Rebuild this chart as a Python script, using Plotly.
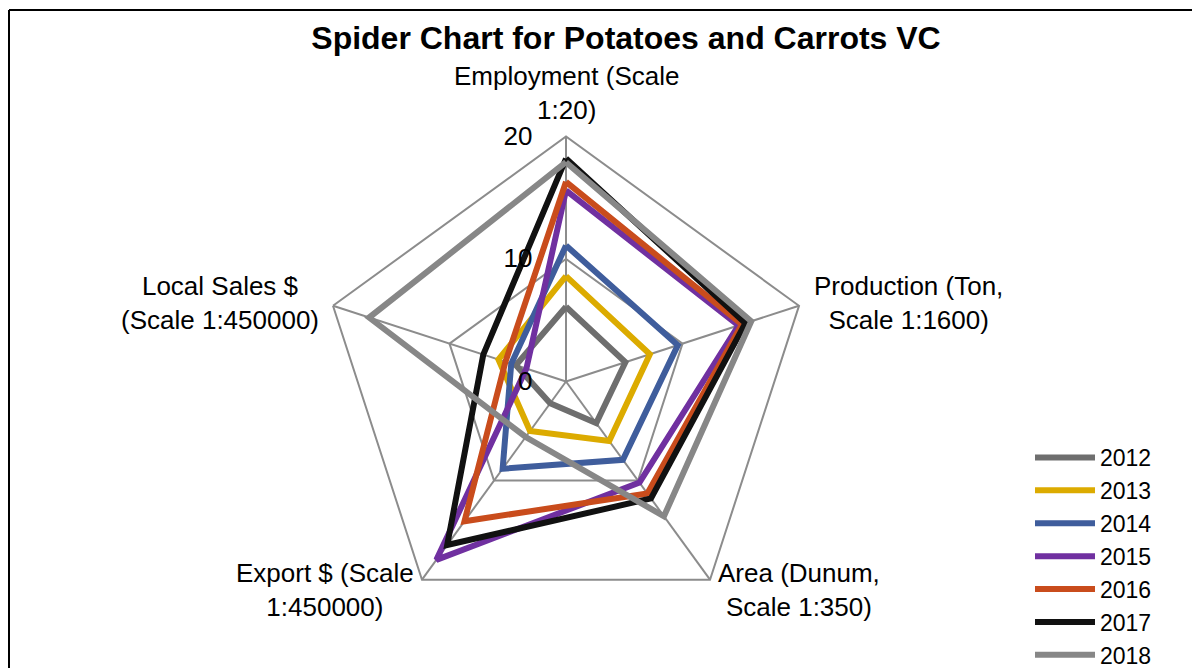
import plotly.graph_objects as go

categories = ["Employment (Scale<br>1:20)", "Production (Ton,<br>Scale 1:1600)",
              "Area (Dunum,<br>Scale 1:350)", "Export $ (Scale<br>1:450000)",
              "Local Sales $<br>(Scale 1:450000)"]
years = ["2012", "2013", "2014", "2015", "2016", "2017", "2018"]
v2012 = [6.1, 5.1, 4.2, 2.2, 4.3]
v2013 = [8.6, 7.2, 6.0, 5.0, 5.8]
v2014 = [11.1, 9.6, 7.9, 8.8, 4.7]
v2015 = [15.6, 14.8, 10.2, 18.0, 3.4]
v2016 = [16.3, 15.1, 11.3, 14.1, 5.2]
v2017 = [18.2, 15.4, 11.8, 16.5, 7.1]
v2018 = [17.9, 15.9, 13.6, 5.6, 16.9]
series = [v2012, v2013, v2014, v2015, v2016, v2017, v2018]
colors = ["#6e6e6e", "#dcab00", "#3f5d9c", "#7030a0", "#c94c1c", "#111111", "#878787"]

fig = go.Figure()
for name, vals, col in zip(years, series, colors):
    fig.add_trace(go.Scatterpolar(
        r=vals + [vals[0]], theta=categories + [categories[0]],
        mode="lines", name=name,
        line=dict(color=col, width=6, shape="linear"),
    ))

# the page body has an 8px margin; work in screen pixels and convert
OFF = 8
W, H = 1200 - OFF, 668 - OFF


def px(sx):
    return (sx - OFF) / W


def py(sy):
    return 1 - (sy - OFF) / H


cx, cy, R = 566, 381.5, 245

label_pos = [(566, 93), (908, 303), (799, 590), (325, 590), (220, 303)]
annotations = []
for text, (lx, ly) in zip(categories, label_pos):
    annotations.append(dict(text=text, x=px(lx), y=py(ly), xref="paper", yref="paper",
                            xanchor="center", yanchor="middle", align="center",
                            showarrow=False, font=dict(size=26, color="black")))

border = dict(color="black", width=2)
shapes = [
    dict(type="line", xref="paper", yref="paper", x0=px(9), x1=px(9), y0=-0.05, y1=py(10), line=border),
    dict(type="line", xref="paper", yref="paper", x0=px(9), x1=px(1193), y0=py(10), y1=py(10), line=border),
    dict(type="line", xref="paper", yref="paper", x0=px(1193), x1=px(1193), y0=-0.05, y1=py(10), line=border),
]

fig.update_layout(
    width=W, height=H,
    margin=dict(l=0, r=0, t=0, b=0, autoexpand=False),
    paper_bgcolor="white", plot_bgcolor="white",
    font=dict(family="Liberation Sans, Arial", color="black", size=25),
    title=dict(text="<b>Spider Chart for Potatoes and Carrots VC</b>",
               x=px(626), xanchor="center", y=py(38), yanchor="middle",
               font=dict(size=32, family="Liberation Sans, Arial", color="black")),
    polar=dict(
        domain=dict(x=[px(cx - R), px(cx + R)], y=[py(cy + R), py(cy - R)]),
        gridshape="linear",
        bgcolor="white",
        radialaxis=dict(range=[0, 20], dtick=10, angle=90, side="counterclockwise",
                        tickangle=90, showline=False, gridcolor="#8c8c8c", gridwidth=2,
                        ticks="outside", ticklen=24, tickcolor="rgba(0,0,0,0)",
                        tickfont=dict(size=26, color="black")),
        angularaxis=dict(rotation=90, direction="clockwise", showline=True,
                         linecolor="#8c8c8c", linewidth=2, gridcolor="#8c8c8c",
                         gridwidth=2, ticks="", showticklabels=False),
    ),
    legend=dict(x=px(1030), y=py(677), xanchor="left", yanchor="bottom",
                font=dict(size=23, color="black"), itemwidth=60,
                bgcolor="rgba(0,0,0,0)", tracegroupgap=0),
    annotations=annotations,
    shapes=shapes,
)
fig.write_html("out.html")
